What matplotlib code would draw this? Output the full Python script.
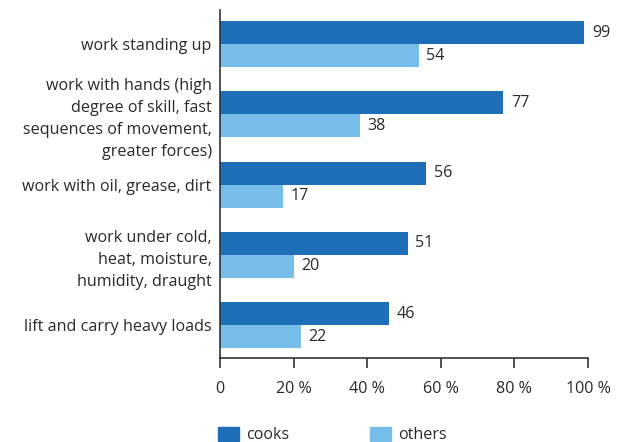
#!/usr/bin/env python3
import matplotlib
matplotlib.use("Agg")
import matplotlib.pyplot as plt
from matplotlib.patches import Patch
import numpy as np

categories = [
    "work standing up",
    "work with hands (high\ndegree of skill, fast\nsequences of movement,\ngreater forces)",
    "work with oil, grease, dirt",
    "work under cold,\nheat, moisture,\nhumidity, draught",
    "lift and carry heavy loads",
]
cooks = [99, 77, 56, 51, 46]
others = [54, 38, 17, 20, 22]
xticks = [0, 20, 40, 60, 80, 100]
xtick_labels = ["0", "20 %", "40 %", "60 %", "80 %", "100 %"]
series_names = ["cooks", "others"]

dark = "#1f6eb8"
light = "#77bde9"
axcol = "#333333"
txtcol = "#2a2a2a"

plt.rcParams["font.family"] = ["Open Sans", "DejaVu Sans"]
fs = 11.6

fig = plt.figure(figsize=(6.26, 4.42), dpi=100)
ax = fig.add_axes([220/626, 1 - 358/442, 368/626, 348/442])

h = 0.327
y = np.arange(len(categories))
ax.barh(y - h/2, cooks, height=h, color=dark)
ax.barh(y + h/2, others, height=h, color=light)

for yi, c, o in zip(y, cooks, others):
    ax.annotate(str(c), (c, yi - h/2), xytext=(5.5, 0), textcoords="offset points",
                va="center", ha="left", fontsize=fs, color=txtcol)
    ax.annotate(str(o), (o, yi + h/2), xytext=(5.5, 0), textcoords="offset points",
                va="center", ha="left", fontsize=fs, color=txtcol)

ax.set_xlim(0, 100)
ax.set_ylim(4.467, -0.484)
ax.set_yticks(y)
ax.set_yticklabels(categories, fontsize=fs, color=txtcol, linespacing=1.5)
ax.tick_params(axis="y", length=0, pad=6)
ax.set_xticks(xticks)
ax.set_xticklabels(xtick_labels, fontsize=fs, color=txtcol)
ax.tick_params(axis="x", length=7.5, width=1.2, color=axcol, pad=9)

for s in ["top", "right"]:
    ax.spines[s].set_visible(False)
for s in ["left", "bottom"]:
    ax.spines[s].set_color(axcol)
    ax.spines[s].set_linewidth(1.2)

handles = [Patch(color=dark), Patch(color=light)]
fig.legend(handles, series_names, loc="upper left", bbox_to_anchor=(218/626, 0.035),
           ncol=2, frameon=False, fontsize=fs, handlelength=1.3, handleheight=1.0,
           handletextpad=0.45, columnspacing=5.0, borderpad=0, borderaxespad=0,
           labelcolor=txtcol)

fig.savefig("out.png", dpi=100)
